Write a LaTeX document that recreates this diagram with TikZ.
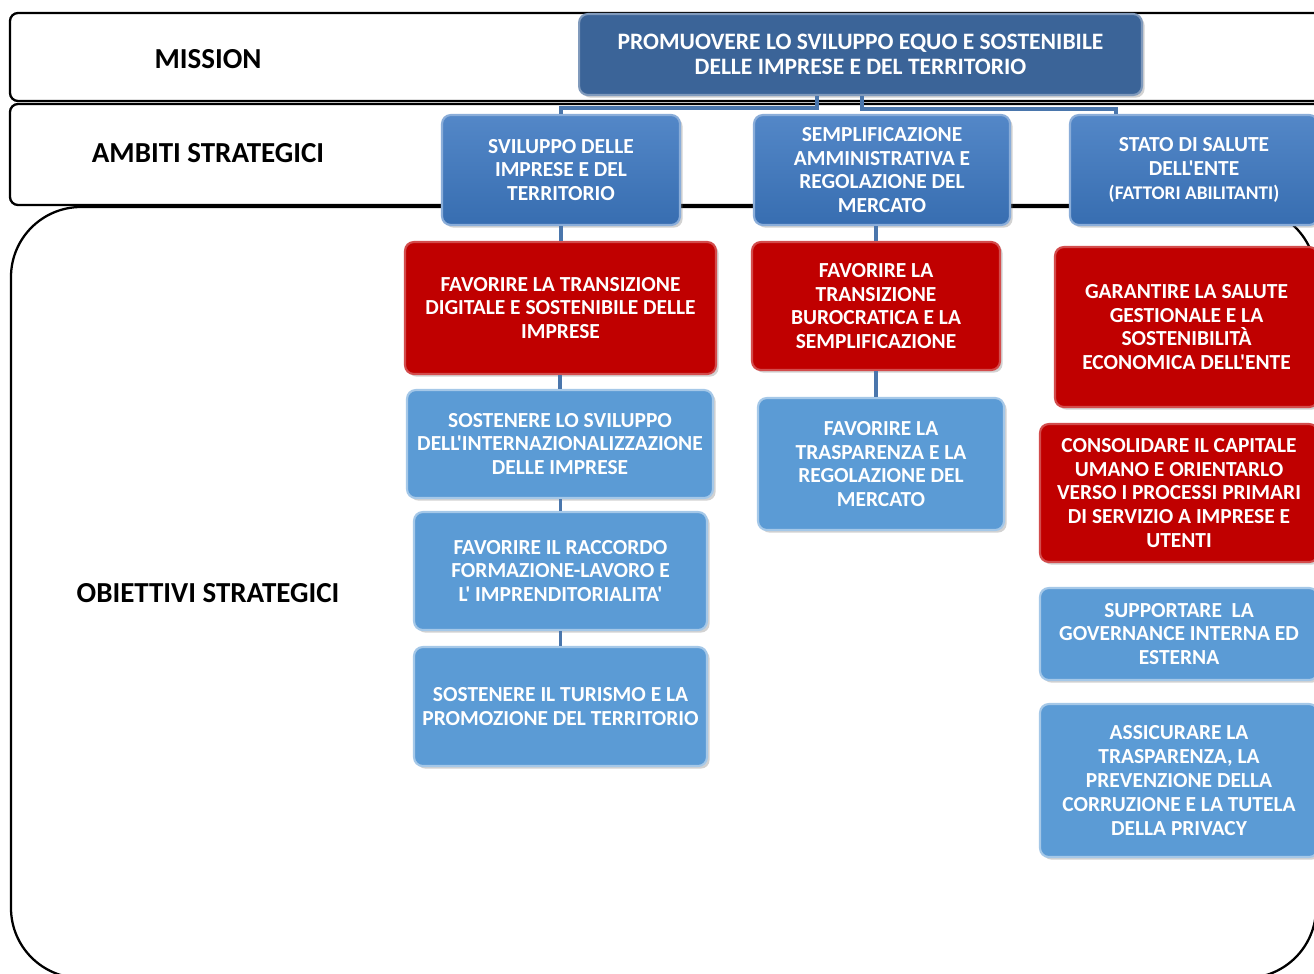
\documentclass[tikz,border=0pt]{standalone}
\usepackage{fontspec}
\setmainfont{Carlito}[Ligatures=TeXOff]
\usetikzlibrary{calc,shadows}

\definecolor{missionblue}{HTML}{3B6498}
\definecolor{ambitoblue}{HTML}{3C77C0}
\definecolor{obred}{HTML}{C00000}
\definecolor{oblight}{HTML}{5B9BD5}
\definecolor{linkblue}{HTML}{4A76AC}

\tikzset{
  band/.style={draw=black, line width=1.3pt, fill=white, rounded corners=0.16cm},
  rowlabel/.style={font=\bfseries\fontsize{16.5}{19}\selectfont, text=black},
  box/.style={rectangle, rounded corners=5pt, text=white, align=center, inner sep=0pt,
    font=\bfseries\fontsize{12.2}{13.6}\selectfont, line width=1.2pt,
    drop shadow={shadow xshift=1.5pt, shadow yshift=-1.5pt, opacity=0.35}},
  missionbox/.style={box, fill=missionblue, draw=missionblue!65!white,
    font=\bfseries\fontsize{13.4}{14.2}\selectfont},
  ambitobox/.style={box, top color=ambitoblue!88!white, bottom color=ambitoblue!92!black,
    draw=ambitoblue!60!white},
  redbox/.style={box, fill=obred, draw=obred!70!white},
  lightbox/.style={box, fill=oblight, draw=oblight!55!white},
  link/.style={draw=linkblue, line width=1.8pt}
}

\begin{document}
\begin{tikzpicture}[x=0.02cm,y=-0.02cm]

\useasboundingbox (0,0) rectangle (1314,973);
\clip (0,0) rectangle (1314,973);

\draw [band] (10,13) rectangle (1340,101);
\draw [band] (10,104) rectangle (1340,205);
\draw [band, rounded corners=1.4cm] (11,207) rectangle (1316,978);

\node [rowlabel] (lmission) at (208,59) {MISSION};
\node [rowlabel] (lambiti) at (208,153) {AMBITI STRATEGICI};
\node [rowlabel] (lobiettivi) at (208,593) {OBIETTIVI STRATEGICI};

\node [missionbox, minimum width=11.26cm, minimum height=1.62cm] (mission) at (860.5,54.5)
  {PROMUOVERE LO SVILUPPO EQUO E SOSTENIBILE\\DELLE IMPRESE E DEL TERRITORIO};

\node [ambitobox, minimum width=4.76cm, minimum height=2.2cm] (a1) at (561,170)
  {SVILUPPO DELLE\\IMPRESE E DEL\\TERRITORIO};
\node [ambitobox, minimum width=5.12cm, minimum height=2.2cm] (a2) at (882,170)
  {SEMPLIFICAZIONE\\AMMINISTRATIVA E\\REGOLAZIONE DEL\\MERCATO};
\node [ambitobox, minimum width=4.96cm, minimum height=2.2cm] (a3) at (1194,170)
  {STATO DI SALUTE\\DELL'ENTE\\{\fontsize{11}{13.6}\selectfont(FATTORI ABILITANTI)}};

\node [redbox, minimum width=6.22cm, minimum height=2.64cm] (r1) at (560.5,308)
  {FAVORIRE LA TRANSIZIONE\\DIGITALE E SOSTENIBILE DELLE\\IMPRESE};
\node [lightbox, minimum width=6.12cm, minimum height=2.16cm] (b1a) at (560,444)
  {SOSTENERE LO SVILUPPO\\DELL'INTERNAZIONALIZZAZIONE\\DELLE IMPRESE};
\node [lightbox, minimum width=5.86cm, minimum height=2.36cm] (b1b) at (560.5,571)
  {FAVORIRE IL RACCORDO\\FORMAZIONE-LAVORO E\\L' IMPRENDITORIALITA'};
\node [lightbox, minimum width=5.86cm, minimum height=2.38cm] (b1c) at (560.5,706.5)
  {SOSTENERE IL TURISMO E LA\\PROMOZIONE DEL TERRITORIO};

\node [redbox, minimum width=4.96cm, minimum height=2.56cm] (r2) at (876,306)
  {FAVORIRE LA\\TRANSIZIONE\\BUROCRATICA E LA\\SEMPLIFICAZIONE};
\node [lightbox, minimum width=4.92cm, minimum height=2.64cm] (b2) at (881,464)
  {FAVORIRE LA\\TRASPARENZA E LA\\REGOLAZIONE DEL\\MERCATO};

\node [redbox, minimum width=5.26cm, minimum height=3.2cm] (r3) at (1186.5,327)
  {GARANTIRE LA SALUTE\\GESTIONALE E LA\\SOSTENIBILITÀ\\ECONOMICA DELL'ENTE};
\node [redbox, minimum width=5.56cm, minimum height=2.76cm] (r4) at (1179,493)
  {CONSOLIDARE IL CAPITALE\\UMANO E ORIENTARLO\\VERSO I PROCESSI PRIMARI\\DI SERVIZIO A IMPRESE E\\UTENTI};
\node [lightbox, minimum width=5.56cm, minimum height=1.84cm] (b3a) at (1179,634)
  {SUPPORTARE\ \ LA\\GOVERNANCE INTERNA ED\\ESTERNA};
\node [lightbox, minimum width=5.56cm, minimum height=3.06cm] (b3b) at (1179,780.5)
  {ASSICURARE LA\\TRASPARENZA, LA\\PREVENZIONE DELLA\\CORRUZIONE E LA TUTELA\\DELLA PRIVACY};

\draw [link] ($(mission.south)+(-43.5,0)$) |- ($(a1.north)+(0,-6)$) -- (a1.north);
\draw [link] ($(mission.south)+(1.5,0)$) |- ($(a3.north west)+(47,-5)$) -- ($(a3.north west)+(47,0)$);
\draw [link] ($(mission.south)+(8.5,0)$) -- ($(mission.south)+(8.5,0)$ |- a2.north);

\draw [link] (a1.south) -- (a1.south |- r1.north);
\draw [link] (b1a.north |- r1.south) -- (b1a.north);
\draw [link] (b1b.north |- b1a.south) -- (b1b.north);
\draw [link] (b1c.north |- b1b.south) -- (b1c.north);

\draw [link] (r2.north |- a2.south) -- (r2.north);
\draw [link] (r2.south) -- (r2.south |- b2.north);

\draw [link] ($(r3.north)+(1.5,0)$ |- a3.south) -- ($(r3.north)+(1.5,0)$);
\draw [link] ($(r4.north)+(3,0)$ |- r3.south) -- ($(r4.north)+(3,0)$);
\draw [link] ($(r4.south)+(3,0)$) -- ($(r4.south)+(3,0)$ |- b3a.north);
\draw [link] ($(b3a.south)+(3,0)$) -- ($(b3a.south)+(3,0)$ |- b3b.north);

\end{tikzpicture}
\end{document}
